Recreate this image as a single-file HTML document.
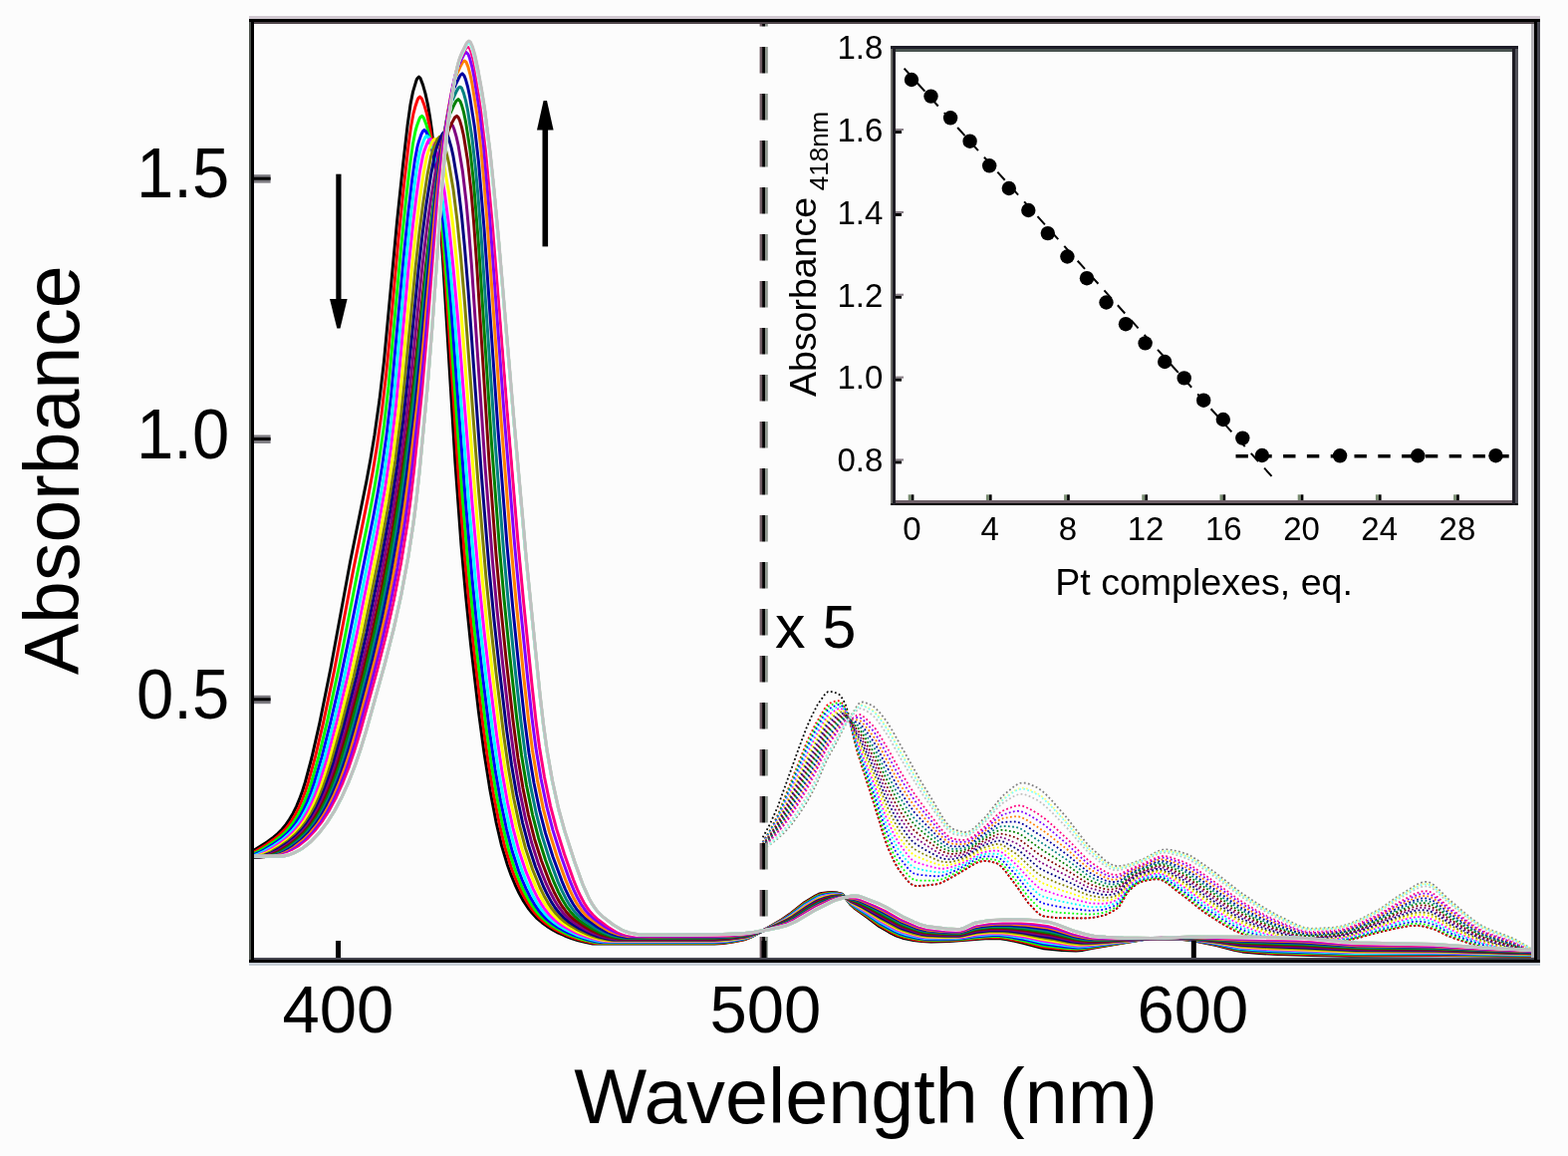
<!DOCTYPE html><html><head><meta charset="utf-8"><title>Absorbance titration</title><style>html,body{margin:0;padding:0;background:#fcfcfc;}svg{display:block}text{font-family:'Liberation Sans',Arial,sans-serif}</style></head><body><svg width="1574" height="1160" viewBox="0 0 1574 1160"><defs><clipPath id="cp"><rect x="254.7" y="23.6" width="1286.1" height="937.4"/></clipPath></defs><rect width="1574" height="1160" fill="#fcfcfc"/><g fill="none" stroke-width="1.8" stroke-dasharray="1.8 2.4" clip-path="url(#cp)"><path stroke="#000000" d="M765.7 840.3l7-12.9 8-17.8 21.5-59.7 7.5-19.8 4.5-10.3 6.5-12.7 7-9.9 2-2.1 1.5-1 3.5 0 5 1.4 2 0.8 1 0.8 3.5 4.7 3 6.3 2.5 8.5 7 30.2 3.5 12.4 16.5 51.7 8.5 28.3 2.5 7.3 3 7.4 5.5 11.9 4.5 7.6 9 11.1 3 2.7 2.5 1.4 2 0.4 9.5-0.4 11-1.2 3.5-0.8 6.5-3 15.5-8.8 11-6.8 4.5-2.3 3-1.1 3-0.6 3-0.1 4 0.5 7.5 2.1 2 1.3 2.5 2.3 3.5 4.2 10 13.2 12.5 17.9 8.5 9.3 4.5 3.6 2 0.9 3.5 0.6 11.5 1.3 29.5 0.3 6.5-0.7 8.5-1.7 5-1.6 4.5-2.2 4.5-2.8 3-2.4 2-2.9 5-9.1 2-3 4.5-4.4 4-3.3 4-2.2 5.5-1.4 7-1.3 5.5-0.2 4 1.1 4.5 2.6 11 8.8 8 5.9 17.5 14 12.5 8.2 10.5 6.4 9 4.8 8 3.4 11 3.5 10.5 2.6 19 2.8 12.5 1.1 14-0.1 17.5-1.3 16-1.7 5.5-0.9 9-2 21-5.8 22-4.9 9.5-1.6 8-0.4 6 0.9 9 2.4 4.5 1.8 10.5 5.3 8 3 15.5 4.9 16.5 4.4 9.5 2.1 7.5 1.3 18.5 2.2 14 0.9"/><path stroke="#FF0000" d="M765.7 844.9l7.5-12.3 8-15.9 28-70.4 3.5-7.9 6-12 9-15.2 3-4 1.5-1.2 3.5-1.5 3-0.9 3-0.4 1 0.3 1.5 1 2.5 2.8 2 3.2 1.5 3.9 2.5 8.7 5.5 22.9 2.5 9.1 18 55.8 8.5 28.3 3.5 9.9 6 13.7 5 9.1 9.5 12.1 3 2.8 3 1.8 2 0.4 9.5-0.4 11-1.2 3.5-0.8 6.5-3 15.5-8.8 11-6.8 4.5-2.3 3-1.1 3-0.6 3-0.1 4 0.5 7.5 2.1 2 1.3 2.5 2.3 3.5 4.2 10 13.2 12.5 17.9 8.5 9.3 4.5 3.6 2 0.9 3.5 0.6 11.5 1.3 29.5 0.3 6.5-0.7 8.5-1.7 5-1.6 4.5-2.2 4.5-2.8 3-2.4 2-2.9 5-9.1 2-3 4.5-4.4 4-3.3 4-2.2 5.5-1.4 7-1.3 5.5-0.2 4 1.1 4.5 2.6 11 8.8 8 5.9 17.5 14 12.5 8.2 10.5 6.4 9 4.8 8 3.4 11 3.5 10.5 2.6 19 2.8 12.5 1.1 14-0.1 17.5-1.3 16-1.7 5.5-0.9 9-2 21-5.8 22-4.9 9.5-1.6 8-0.4 6 0.9 9 2.4 4.5 1.8 10.5 5.3 8 3 15.5 4.9 16.5 4.4 9.5 2.1 7.5 1.3 18.5 2.2 14 0.9"/><path stroke="#00FF00" d="M765.7 845.2l7.5-11.9 8-15.4 28-68.6 4-8.9 6-11.9 8.5-14.4 3-4.2 1.5-1.3 3.5-1.7 4-1.4 2.5-0.4 2.5 1.3 2.5 2.7 1.5 2.3 1.5 3.5 2.5 8.1 7.5 28.1 18.5 54.8 9 28.8 4 10.6 5.5 12.2 5 8.8 9.5 12.1 3 2.8 3 1.7 4 0.6 8.5 0.2 10-0.2 3.5-0.6 6-2.2 14-7.1 13.5-8 5.5-2.6 3.5-1 3-0.3 4 0.2 5 0.7 2.5 0.6 2 1 4.5 3.9 12.5 15.1 12.5 16.8 8 8.4 4.5 3.7 2 0.8 3.5 0.8 12 2 30.5 1.9 6-0.4 8-1.2 5-1.4 4.5-2 4-2.4 3-2.3 2-2.7 5-8.7 2-2.9 4.5-4.3 4-3.1 4-2.2 6.5-1.7 6.5-1.2 5.5-0.2 4 1.1 4.5 2.6 18.5 13.8 18.5 14.6 14 9.1 10 6 8.5 4.5 7.5 3.2 12 3.9 10.5 2.6 18.5 3 13 1.2 14-0.1 20-1.6 12.5-1.4 7.5-1.4 27-7.5 25.5-6.2 8.5-1.4 6.5-0.2 6 0.9 8.5 2.4 4 1.7 10 5.3 6 2.4 15.5 5.6 14.5 4.2 11.5 2.9 8.5 1.6 20 2.8 14 1.3"/><path stroke="#0000FF" d="M765.7 845.6l7.5-11.5 8-14.9 5-11.4 24-57.6 5.5-11.6 5-9.5 7.5-12.9 3-4 2.5-1.7 3.5-1.8 4-1.5 1.5-0.1 2 0.9 3 2.8 1.5 2.4 1.5 3.6 9 30.5 18.5 51.8 10 30.7 5.5 13.4 5 10.4 4.5 7.3 9 11.5 3 2.8 3 1.7 6 1.1 8 0.8 8.5 0.6 4.5-0.5 6-1.9 12.5-5.6 15.5-8.8 5-2.2 3-0.8 3.5-0.3 4.5 0 5 0.6 3.5 1.4 4.5 3.9 12 13.2 12.5 15.8 8 8.1 4 3.1 2 0.9 3 0.8 13 2.8 26.5 3.5 5 0.4 6.5-0.3 7-0.7 5-1.3 4.5-1.9 3.5-2 2.5-1.9 2-2.5 5-8.3 2-2.7 4.5-4.2 4-3 4-2.1 7.5-2.1 6.5-1.2 5-0.2 4 1.2 4.5 2.5 18.5 13.3 18.5 14.4 15.5 10.1 10 6 8.5 4.4 7.5 3.1 12 4 10.5 2.6 19 3.4 12.5 1.2 14.5-0.1 21.5-1.9 9.5-1.2 8-1.7 26-7.5 25.5-6.8 9-1.6 6.5-0.3 6 0.9 7.5 2.2 4 1.8 10 5.6 5 2.1 16 6.2 14 4.6 11 2.9 9 1.9 22 3.4 13 1.6"/><path stroke="#00FFFF" d="M765.7 846l4-5.6 4-6.3 8-14.6 10.5-23.8 18-42.3 6-12.4 5.5-10.4 6.5-11.4 3-4.2 3-2.2 4-2.2 3.5-1.5 1.5 0 2 0.8 2.5 2 1.5 2.1 1.5 3.2 9 27.8 18.5 48.8 10.5 30.9 6.5 15 6 11.5 7 9.8 6 7 2.5 2 2 1 9 2.2 12.5 2.1 3.5 0.1 3.5-0.3 6-1.7 11-4.4 6-3 10-5.9 5-2.2 3-0.7 4.5-0.5 8.5 0.1 3.5 1.6 4 3.2 11.5 11.5 13 15.2 8 7.8 4 2.9 7.5 2.4 11 2.8 26.5 5.3 6 0.6 8.5-0.1 4-0.4 4.5-1 4.5-1.7 3.5-1.9 2-1.4 2-2.4 5-7.9 2-2.6 5-4.4 4-2.8 4-2 8.5-2.3 6.5-1.2 4-0.1 4 1.2 5 2.9 17.5 12.1 19 14.5 18 11.7 10.5 6.2 9 4.4 10.5 4 10.5 3.2 11 2.6 17.5 3.1 12.5 1.1 14.5-0.5 21-2 7.5-1.2 8-1.9 41.5-12.6 9-2.4 9-1.8 6.5-0.2 6 0.9 6.5 2 3.5 1.7 9 5.2 4.5 2.3 17.5 7.3 14 4.9 10.5 2.9 9 2.1 36 6"/><path stroke="#FF00FF" d="M765.7 846.3l4-5.3 4-6.1 8-14.1 10.5-22.9 19.5-44.5 7.5-15 8.5-15.4 2.5-3.9 2.5-2.5 8.5-5.3 1-0.3 1.5-0.1 2 0.8 2.5 1.8 1.5 2.1 1.5 3.2 8 22.7 19 47 10.5 29.7 8.5 18.8 5 8.9 9.5 12.9 2.5 2.8 2.5 2.1 2 1.2 2.5 0.9 8 2.5 12 3.1 4 0.4 4-0.3 6-1.5 10.5-3.8 5.5-2.7 10-5.9 4.5-2 8-1.6 6-0.5 2 0.1 2.5 0.9 3 1.8 11 9.5 4.5 4.5 10.5 11.6 8 7.5 4 2.9 16.5 5.6 26.5 7.1 5.5 1.2 6.5 0.5 6 0.1 4-0.3 4.5-0.9 4-1.6 3.5-1.8 2-1.8 6.5-9.4 2-2.3 4.5-3.7 4-2.7 4-1.9 10-2.9 6-1.1 3.5 0.1 4 1.2 5.5 3 17 11.4 19 14.3 19 12.5 11 6.4 8.5 4.1 13 4.9 10 3 12.5 3 16 2.9 11.5 0.8 16-0.7 19.5-2 7-1.4 7.5-1.9 40.5-13.1 9-2.6 9-2 6.5-0.3 6 0.9 6 1.9 4 2 12 7.2 18.5 8.2 13.5 5.1 9.5 2.8 9 2.2 37.5 7.2"/><path stroke="#FFFF00" d="M765.7 846.7l4-5.1 4-5.9 5-8.2 3.5-6.4 10.5-22.1 19-42.3 8-15.9 8.5-15.7 2.5-3.8 3-2.8 7.5-5.1 1.5-0.6 1.5-0.1 2 0.6 2 1.2 1.5 1.8 2 3.8 7 18.1 6 13.1 13 30.7 12 32.2 6 13 4.5 8.7 3 4.8 6.5 9 3 3.8 3 3.1 3.5 2.4 11.5 4.7 10 3.5 3 0.8 4.5 0.4 5-0.5 9.5-2.7 5.5-2.2 4.5-2.2 9.5-5.8 4-1.8 10-2.3 4-0.6 2.5 0.2 2.5 0.8 2.5 1.5 11.5 8.7 4.5 4.1 9.5 9.9 8 7.3 4.5 3.1 16.5 6.3 28.5 9.4 5.5 1.2 10 0.9 4.5-0.1 4-0.6 4-1.3 3.5-1.8 3-2.8 7-9.3 6-4.8 4.5-2.8 3-1.2 11.5-3.3 5-0.9 3 0.2 3.5 1 3.5 1.7 16.5 10.3 21.5 15.9 20.5 13.5 11.5 6.7 8.5 4 13.5 5.2 9 2.8 14 3.4 14.5 2.9 11 0.8 16.5-0.8 18.5-2 7-1.4 8.5-2.4 40-13.7 9.5-2.9 9-2 6-0.2 5.5 0.8 5.5 1.8 4 2.2 12 7.4 18.5 8.8 13 5.2 9 2.8 8.5 2.2 39 8.4"/><path stroke="#808000" d="M765.7 847.1l4-4.9 4.5-6.4 5-8 3.5-6.2 10.5-21.5 19-41.2 9-17.7 8-14.8 3-3.9 7.5-6 3-1.9 2.5-0.2 2.5 0.8 1 0.7 1.5 1.8 2 3.6 6 13.8 6.5 12.8 12.5 27.7 13 33.2 7.5 15.6 5 8.7 9 12.7 3 3.5 3 2.7 9.5 5.1 15 6.6 4.5 1.2 5 0.3 4-0.5 7-1.8 8.5-3.2 11-6.7 4-2 12-3.5 2.5-0.5 2.5 0.1 2 0.5 2.5 1.2 12 7.8 4 3.3 8.5 8.3 7 6.2 3.5 2.9 3 1.9 16.5 7.1 11.5 4.3 16 6.6 4.5 1.5 5.5 1 6.5 0.9 4.5 0.2 4.5-0.5 4-1.2 3-1.4 2-1.6 6.5-8.2 2-2 5.5-4.2 4-2.4 3-1.3 14.5-4.2 4-0.5 4 0.6 6 2.8 16 9.6 21 15.4 22 14.6 12 6.9 12 5.4 12.5 4.6 13.5 3.9 15 3.5 9.5 1.4 8.5 0.4 20-1.4 14-1.8 7-1.6 8.5-2.6 24-8.5 14-5.3 10.5-3.4 8.5-2.1 6-0.3 5.5 0.9 5.5 2 15.5 9.7 19 9.6 12.5 5.2 15.5 4.8 19.5 4.4 21.5 5.3"/><path stroke="#000080" d="M765.7 847.4l4-4.7 4.5-6.1 5.5-8.4 3.5-6.2 10-19.7 19-40.1 17-32.9 3-4.1 9-7.7 2.5-1.4 2.5-0.1 2.5 0.8 2.5 2.8 7 13.7 6.5 11.2 13.5 28.2 9 22.6 3.5 8 7.5 15.3 5.5 9.3 8.5 12 3 3.5 2.5 2.4 10.5 6.6 13 7 3.5 1.5 4.5 1.1 4.5 0.3 3.5-0.4 7.5-1.8 7.5-2.9 10.5-6.5 4-2.1 13.5-4.7 2-0.3 2 0.1 4 1.3 12.5 6.9 4 3.1 15 13.2 3.5 2.8 3 1.8 44.5 20.8 5 1.7 10 2.2 4.5 0.5 4.5-0.2 4-0.9 3.5-1.4 3-2.5 5-6.1 2.5-2.5 6.5-4.6 5-2.6 12-3.9 5-1.3 3.5-0.2 4 0.8 5.5 2.5 16.5 9.5 18 13.2 18.5 12.5 10 6.4 8.5 4.8 13 5.9 12 4.6 13 3.9 16 4 8.5 1.3 8 0.3 22.5-1.5 11.5-1.7 7.5-1.9 9-2.9 19-6.9 18-7.3 11.5-4 7.5-1.9 6.5-0.2 5 0.8 5 1.9 3.5 2.1 12 8.1 19 10 12 5.4 14.5 4.7 21 5.1 21.5 5.9"/><path stroke="#800080" d="M765.7 847.8l4.5-5.1 5-6.6 5-7.5 4-6.9 9-17.1 19-39.2 17.5-34 3-3.9 9-8.4 2.5-1.4 3.5-0.3 2 1 2 2.2 6.5 10.9 6.5 9.7 13 25.1 11 26.1 7.5 15.5 5.5 10.1 8 11.9 5 6.6 4.5 4.4 8.5 5.9 13 8.2 6.5 3.3 4 1 4 0.3 7-1.1 4.5-1.1 5.5-2 12.5-8 9.5-4.2 7-2.8 2.5-0.3 2.5 0.3 4 1.4 10.5 4.7 4.5 3.1 14 11.6 6 4.4 28 14.4 15.5 8.6 4 1.9 4 1.4 9.5 2.5 5.5 0.8 5.5-0.3 3-0.8 2.5-1.1 2.5-2 7-7.6 6-4.2 5-2.7 17-5.7 4-0.6 3.5 0.4 6.5 2.6 16.5 9.1 5.5 3.7 13 9.6 22 14.9 9 5.8 8 4.4 15 6.7 12.5 4.6 21.5 6.2 6 1.4 5.5 0.8 7 0.3 13.5-0.7 13-1.2 9.5-1.7 8-2.2 9.5-3.4 16.5-6.2 18-7.7 13-4.7 8-2 3.5-0.1 4 0.3 3.5 1 4 1.7 14.5 10 19.5 10.9 11.5 5.5 13 4.4 23 6 21.5 6.5"/><path stroke="#800000" d="M765.7 848.2l5-5.5 5-6.4 5-7.3 5-8.4 9-16.7 32.5-65 3-5.4 3-3.8 9-9 2.5-1.5 3.5-0.7 2 0.9 2 1.9 5.5 7.7 5.5 6.5 3 4.8 12 21.8 10.5 23.8 9.5 19 4.5 7.9 9.5 14.1 5.5 6.5 8 6.6 17 12.4 3.5 2 3.5 1.5 3.5 0.8 3.5 0.2 7.5-1 5.5-1.4 5-2.4 11-7.4 14-6.9 4-1.2 4 0.3 10.5 3.1 4.5 2.1 4 2.7 18 13.8 28 15.9 18.5 11.4 4.5 2 9.5 3.2 4 1 3.5 0.5 5-0.2 5-1.6 2.5-1.8 7-7.1 6.5-4.2 4.5-2.4 17.5-6.1 4-0.6 3.5 0.4 7 2.8 16.5 8.7 17.5 12.6 24 16.4 8.5 5.4 7.5 4.1 15.5 7.2 13 4.9 21 6.4 5.5 1.3 5.5 0.8 6.5 0.3 16-0.9 11-1.1 9-1.7 10.5-3.2 19.5-7.5 21-9.4 14-5.5 4.5-1.3 3.5-0.7 3.5-0.2 3.5 0.3 3.5 0.9 4 1.9 14.5 10.3 19.5 11.4 11 5.6 12 4.4 24.5 6.6 21.5 7.2"/><path stroke="#008000" d="M765.7 848.6l5.5-5.8 6-7.6 5-7.2 6-10 9.5-17.5 30-59.6 3-5.3 2.5-3.2 9.5-10.2 3-1.9 3-0.8 1.5 0.4 2 1.4 5.5 6 4.5 4.1 2 2.3 3.5 5.3 11 18.8 10.5 22.7 10.5 20.4 5.5 9 9 13.2 4.5 5.2 10.5 9.2 14.5 11.8 4 2.5 3.5 1.6 3.5 0.8 3 0.1 7.5-0.7 6-1.6 4.5-2.5 10-6.9 14-8 3-1.3 2.5-0.4 2.5 0 10.5 2 4 1.3 4 2.2 18.5 13.5 27.5 17 19.5 13.3 4.5 2.2 10 3.9 4 1.1 4 0.6 4.5-0.2 4.5-1.4 2.5-1.9 6.5-6.1 6.5-4 5-2.5 18-6.4 3.5-0.4 3.5 0.4 7 2.6 16.5 8.4 43.5 30.3 8.5 5.4 8 4.2 14.5 6.9 13.5 5.2 20 6.3 5.5 1.3 5 0.8 8.5 0.1 17-1.1 8.5-1 8-1.7 10.5-3.4 19.5-7.7 20-9.4 15.5-6.5 4-1.2 3.5-0.7 3.5-0.2 3.5 0.3 3.5 1 3.5 1.7 14.5 10.8 20 12.2 10.5 5.5 6 2.5 7 2.4 26 7.4 19 7"/><path stroke="#008080" d="M765.7 848.9l6.5-6.6 7-8.7 5-7.3 7-11.5 14.5-26.9 13-25.4 9.5-19.6 2.5-4.5 2.5-3.3 10-11.5 4-2.7 2.5-0.5 2.5 1 5 3.9 5.5 3.6 2 2.1 4.5 6.3 9.5 15.1 10.5 21.6 11.5 21.9 9 14.2 6 8.5 3 3.6 6.5 6.5 17.5 16 5 3.8 5 2.5 4 0.9 5.5-0.2 4.5-0.5 4.5-1.1 4-2.1 10-7.3 15.5-9.8 4.5-1.7 4.5-0.2 10 0.9 3.5 1.1 3 1.5 45.5 30.8 20 14.9 4 2.3 9 4 7 2.5 5.5 0.5 5-0.9 3-1.7 7.5-6.3 10-5.4 19-7.2 4-0.5 3.5 0.4 7.5 2.7 12 5.6 4 2.2 45 31.4 8.5 5.3 9.5 5.1 13.5 6.4 13 5.1 19 6.3 5 1.2 5 0.8 4 0.3 6-0.2 18-1.3 7.5-1 6.5-1.6 10.5-3.5 19-7.8 20-9.9 16-7 4-1.4 3.5-0.7 3.5-0.2 3 0.2 3.5 1.1 3.5 1.8 14.5 11.1 20 12.7 10.5 5.8 5.5 2.4 7 2.5 26 7.8 19.5 7.7"/><path stroke="#0000A0" d="M765.7 849.3l6.5-6.2 7-8.3 5.5-7.7 7.5-11.9 16-29 10.5-20.3 9.5-20 3-5.4 12.5-15.6 4.5-3.4 1.5-0.4 1.5 0 6 2.7 4 1.3 2 1.2 3.5 3.7 6 8.1 4 5.8 3 4.9 8.5 16.8 13.5 25.2 10 15.8 6 8.3 9 9.8 17 17.1 5.5 4.5 5 2.5 3 0.6 6 0 4.5-0.4 3.5-0.8 5-2.8 9-6.8 6-4 9-6.6 3-1.7 2.5-1 2.5-0.4 9.5-0.4 3.5 0.3 3.5 1.1 4 2 23 15.3 20.5 15.2 14.5 12.1 6 4.5 4 2.3 12 5.9 3.5 1.1 3.5 0.7 3.5 0 3-0.6 3-1.5 7.5-5.7 10.5-5.4 19-7.4 4.5-0.5 4 0.6 5 1.7 10 4.3 8 4.1 44.5 31.3 8 5.1 8 4.4 12.5 6.3 10.5 4.6 19.5 7.2 8 2.4 8 1.4 9.5 0 18.5-1.4 5.5-0.8 5.5-1.3 11.5-3.9 19.5-8.1 20-10.5 16-7.4 7-2.2 3-0.4 3 0.1 4 1 4 2 14.5 11.5 20.5 13.6 10 5.8 5.5 2.4 6.5 2.5 26 8.1 20 8.4"/><path stroke="#FF8000" d="M765.7 849.7l6.5-5.9 7-7.9 5.5-7.3 7.5-11.2 11.5-19.8 10-18.6 5.5-10.9 11-23.1 2-3.1 10-13.5 4.5-4.7 2-1.5 1.5-0.6 2-0.2 4.5 0.8 4.5 0.3 2.5 1 3 2.8 5.5 6.6 6 8.1 3.5 5.9 20.5 38 9.5 15.2 5.5 7.9 9.5 11.4 17.5 19.2 5.5 4.9 2.5 1.6 2.5 1.2 2.5 0.6 6.5 0.3 4.5-0.3 3.5-0.8 2.5-1.2 3-2.1 7.5-6 6.5-4.7 9-7.3 3.5-2.3 3.5-1.4 7-1.2 5-0.6 3.5 0.2 3.5 1.1 4.5 2.3 18.5 12 22.5 17.8 15 13.5 5 4.2 4.5 3 9.5 5.3 4.5 2.2 3.5 1.1 3 0.6 3 0 2.5-0.4 2.5-1.1 7.5-5.1 7-3.6 10.5-4.2 10.5-4.6 3-0.9 3-0.4 2.5 0.1 3.5 0.8 5 1.7 10 4 7 3.6 23.5 16.3 22.5 16.1 7.5 4.8 9.5 5.3 11.5 5.9 10 4.5 19 7.3 7.5 2.4 4.5 1 4 0.5 10-0.2 17.5-1.3 5.5-0.9 5.5-1.4 11-3.8 19.5-8.4 20-11 16.5-8 3.5-1.4 3.5-0.9 3-0.3 3 0 3.5 0.9 4 2.2 14.5 11.8 20.5 14.2 10 6 5 2.3 6.5 2.6 19 5.9 7 2.5 9 3.8 11.5 5.4"/><path stroke="#8000FF" d="M765.7 850l6.5-5.5 7.5-8 7-9 6.5-9.5 11-18.4 9.5-17.4 5.5-10.8 11-23.5 13-18.9 4.5-5 2.5-1.9 2.5-0.8 9.5-1.5 2.5 1.1 3.5 3.2 7.5 8.3 3 4 13 22.5 11 20.1 10 16.1 6 8.8 8.5 10.7 18 21.4 5.5 5.2 2.5 1.7 2.5 1.1 4.5 0.7 5.5 0.3 4.5-0.4 2.5-0.8 5.5-3.6 13-10.5 9.5-8.5 4-2.8 3.5-1.5 9.5-2.6 3.5-0.4 3 0.2 4 1.3 6 3.1 7.5 4.7 7.5 5.2 22.5 19 15 14.5 5.5 4.9 3.5 2.6 9 5.6 6.5 3.5 3 1 3 0.7 3 0 2.5-0.4 2.5-1 7-4.2 7-3.4 10-4 12.5-5.6 3-0.8 2.5-0.2 2.5 0.2 4 0.9 15 5.6 6.5 3.4 22.5 15.6 24 17.4 7 4.4 11.5 6.6 10.5 5.5 9.5 4.3 18.5 7.4 7 2.4 4 0.9 4 0.6 11.5-0.3 16.5-1.3 5.5-0.9 5.5-1.5 11-4 19.5-8.7 19.5-11.2 17-8.6 6.5-2.3 3-0.4 3 0 3.5 0.9 4 2.2 14.5 12.3 20.5 14.7 10 6.2 5 2.5 6.5 2.6 18.5 5.9 7 2.6 9.5 4.2 11.5 5.8"/><path stroke="#FF0080" d="M765.7 850.4l7-5.6 7.5-7.7 8-9.8 7-10.1 10.5-17.2 8.5-15.4 5-9.9 8.5-18.9 3-5.9 13.5-20.5 4-4.9 3-2.5 9.5-4.6 2.5-0.4 2 0.9 4 3.1 6.5 6.5 3 3.6 3.5 5.2 9 15.1 13 23.3 9 14.7 5.5 8.4 8.5 11.5 18.5 23.7 5.5 5.6 2.5 1.8 2.5 1.2 5.5 1 4.5 0.3 4-0.2 3-1.1 4.5-3 11.5-9.6 11.5-11 4.5-3.6 3-1.6 10-3.8 4-0.7 3.5 0.2 4 1.4 6 3 6.5 3.9 7 5 5.5 4.7 17 15.6 15 15.6 5.5 5.2 3.5 2.8 10 6.8 6.5 3.6 5.5 1.7 2.5 0.1 2.5-0.3 3-1.1 6.5-3.4 6.5-2.9 10.5-4.2 9.5-4.6 4-1.6 3-0.7 2.5-0.1 3.5 0.4 4 1 13.5 4.8 6.5 3.3 21.5 14.9 25.5 18.7 6.5 4.2 13 7.6 9.5 5.1 9.5 4.5 18 7.5 7 2.5 4 1 4 0.5 12-0.3 15.5-1.2 5.5-1 5.5-1.5 11.5-4.3 19-8.7 6-3.4 13-8.1 18-9.6 6.5-2.3 5.5-0.4 3.5 0.9 4 2.2 14.5 12.7 21 15.6 9.5 6.1 5 2.6 6 2.5 19 6.3 7 2.7 9.5 4.4 11.5 6.2"/><path stroke="#FFFFFF" d="M765.7 850.8l6.5-4.8 7-6.6 7.5-8.4 6-7.8 8.5-12.9 9-15.1 8.5-16.1 11.5-25.4 13.5-21.9 4.5-6.3 3-3.2 9.5-7.5 1.5-0.7 1.5-0.2 3 1.3 4.5 3.4 5.5 4.9 3.5 4.2 10.5 16.2 14 24.9 11 18.2 7 10.6 24 33.1 5.5 5.8 2.5 1.8 2 0.9 6 1.3 4.5 0.4 3.5-0.3 3-1.1 4-2.8 11.5-10.1 12-12.4 5-4.2 8.5-4.5 4.5-2 4-0.9 3.5 0.2 5.5 1.9 8 4.2 4 2.6 5 3.8 6 5.3 16.5 16.2 15 16.6 5.5 5.6 3.5 3 10.5 7.7 7 4.2 3 1.1 3 0.6 2.5 0 3-0.7 16-6.8 8-3 11-5.6 5-1.8 3-0.4 2.5 0.1 8.5 1.9 11 3.8 7 3.6 21 14.5 26 19.4 20.5 12.6 9 4.9 8.5 4.2 18 7.9 7 2.5 4 1 4 0.5 13.5-0.4 14.5-1.2 5-1 5.5-1.6 11-4.3 19-8.9 6-3.5 13-8.4 18.5-10.4 6.5-2.3 3-0.4 2.5 0 3.5 1.1 4 2.5 13.5 12.2 21 16.3 9.5 6.4 5 2.6 6 2.6 19.5 6.8 7 2.8 9.5 4.7 11.5 6.5"/><path stroke="#C0C0C0" d="M765.7 851.1l7-4.8 8-7.2 8.5-9.3 6.5-8.5 9.5-14.5 7.5-12.8 6.5-12.7 11-24.8 8-13.1 6.5-11.5 4-6.1 3.5-4.3 8.5-9.2 2-1.3 1.5-0.3 4.5 1.9 7 4.9 3 2.9 3 3.7 10 14.8 11.5 20.6 10 17 13.5 21.4 21 30.7 5 5.5 2.5 1.9 2 0.9 6 1.4 4.5 0.5 3.5-0.2 3-1.3 4-2.9 11-10.1 12.5-13.9 5-4.6 9-5.7 4-2.1 4-1.2 4 0.1 5 1.7 8 4 4 2.6 4.5 3.5 6 5.7 16 16.5 15.5 18.3 6 6.4 14 11.4 7 4.5 3 1.2 3 0.6 3-0.1 3-0.6 22-8.3 13-6.7 5.5-1.8 3-0.2 4.5 0.5 11 3 7 2.5 7 3.9 19.5 13.6 26 19.6 19.5 12.4 9 5.1 8.5 4.4 18.5 8.5 7 2.7 4 1 4 0.5 13.5-0.3 14-1.1 5.5-1.1 5.5-1.7 11-4.3 19-9.2 5.5-3.3 13.5-9.1 18.5-10.8 6.5-2.5 3-0.5 2.5 0 3.5 1.1 4 2.5 13.5 12.6 21.5 17.2 9 6.3 5 2.7 5.5 2.5 19.5 7 7 2.9 10 5.1 11.5 6.9"/><path stroke="#808080" d="M765.7 851.8l5-2.7 5-3.5 5.5-4.6 6.5-6 7-7.9 8.5-11.7 6.5-10.1 6-10.7 4-8.2 10.5-24.4 8-14.2 6-11.9 5.5-10.2 11.5-18.8 2.5-2.2 2.5-0.2 2.5 0.6 3 1.1 4.5 2.2 2 1.5 4.5 4.6 7 8.9 5.5 8.8 29 51.4 11.5 18.7 10 17 3.5 5.3 3 3.7 3 2.7 2.5 1.4 6 1.9 5 0.8 3-0.2 3-1.4 4.5-3.6 10.5-10.5 13-16.5 5-5.3 9-7.5 4.5-3 2.5-1.1 2-0.5 4.5 0.3 4.5 1.5 6.5 3 4 2.7 4 3.4 6.5 6.7 15.5 17.8 16 20.9 6 7 16 14.5 4.5 3.2 4 1.9 3 0.6 4-0.1 4.5-0.7 5.5-1.5 13-4.6 13.5-7.4 3-1.3 3-0.8 4-0.2 5 0.6 5.5 1.1 8 2.2 5.5 2.5 6.5 4.1 17 11.8 27 21 13.5 9 11 6.9 11.5 6.5 20.5 10.1 7 2.6 6 1 12-0.3 14-1 7-1.4 8-2.7 10.5-4.6 17-8.8 5-3.2 13.5-9.7 19.5-12.3 3.5-1.6 3-1 3-0.4 2.5 0.2 3 1.2 3.5 2.4 13.5 13.3 21.5 18.3 9 6.7 5 2.9 5.5 2.6 19 7.1 7.5 3.3 10 5.6 11.5 7.6"/><path stroke="#FFFF80" d="M765.7 851.5l4-2.3 4.5-3.2 9.5-8.5 8-8.6 8.5-11.4 7.5-11.5 7-12.3 4.5-8.9 11-25.3 8-13.7 8-14.8 5-8.1 9-12.6 2.5-2.4 2-0.6 2.5 0.6 2.5 1 7 4.2 4 3.9 4.5 5.7 7.5 11 11.5 20.6 16 27.4 24.5 39.1 3.5 5.1 3.5 4.3 3 2.7 3 1.6 6 1.6 5 0.7 3-0.3 3-1.4 4-3.1 11-10.6 12.5-15 5-5 9-6.7 4.5-2.7 4.5-1.4 4 0.3 5 1.7 7 3.4 4 2.6 4 3.3 6 6 16 17.5 16 20 6 6.7 15.5 13.3 4.5 3 4 1.9 3 0.6 3 0 4-0.7 5-1.5 15.5-5.6 13.5-7.2 5.5-1.9 3.5-0.1 5 0.5 5.5 1.3 8 2.3 5.5 2.3 6.5 4 18 12.6 26.5 20.3 23.5 15 12.5 6.9 20.5 9.8 7 2.5 6 1.1 12-0.3 14.5-1 7-1.4 8-2.6 10.5-4.6 17-8.5 5.5-3.5 13-9.1 19-11.6 3.5-1.6 3.5-1.1 3-0.4 2.5 0.2 3 1.2 3.5 2.4 13.5 13 21.5 17.8 9 6.5 5 2.8 5.5 2.5 19 7 7.5 3.2 10 5.4 11.5 7.3"/><path stroke="#80FFFF" d="M765.7 851.5l4-2.4 4-2.9 9-8 8.5-9.1 8-10.7 8-12.2 7-12.2 5-9.9 11-25.1 8-13.6 7.5-13.9 5-7.9 9.5-12.8 2.5-2.4 2-0.5 2.5 0.7 2.5 1.1 7 4.3 3.5 3.4 4.5 5.8 8 11.7 11.5 20.7 18 30.6 22.5 35.3 3.5 5 3.5 4.2 3 2.7 2.5 1.4 6 1.7 5 0.6 3.5-0.3 3-1.4 4-3.1 11-10.5 12.5-14.8 5-4.9 9-6.5 4.5-2.6 4-1.2 4 0.1 5 1.7 7 3.3 4 2.6 4.5 3.7 6 5.9 16 17.3 16 19.8 6 6.6 15.5 13.2 4.5 2.9 4 1.8 3 0.7 2.5 0 3.5-0.6 4.5-1.4 17-6.1 13.5-7.1 5.5-1.9 3.5-0.1 5 0.6 5.5 1.3 8 2.3 5.5 2.4 6.5 4 18 12.5 26.5 20.3 23.5 14.9 12.5 6.8 20.5 9.8 7 2.5 6 1 12-0.2 14.5-1.1 7-1.3 8-2.7 10.5-4.5 17-8.5 5.5-3.5 13-9 19-11.5 3.5-1.6 3-0.9 3-0.5 2.5 0.1 3.5 1.3 3.5 2.3 13.5 13 21.5 17.6 9 6.5 5 2.8 5.5 2.5 19 7 7.5 3.2 10 5.3 11.5 7.2"/></g><g fill="none" stroke-width="3.0" stroke-linejoin="round" clip-path="url(#cp)"><path stroke="#000000" d="M252.5 854.7l15.5-9.7 6.5-4.9 4.5-3.8 4-4.1 4-4.8 3.5-5.1 3.5-5.9 3.5-7.1 3-7.1 3-8.2 3-9.5 6.5-24.5 7.5-32.8 11.5-57 19.5-106.3 16.5-81.5 4-21.9 4-24.3 5-35.4 4.5-38.7 13-139.3 6-57.1 4.5-39.4 3-21.5 2.5-12.7 3.5-11.6 1-2 1.5-1.4 1.5 1.5 2.5 6.5 2.5 8.8 2.5 11.4 2 11.6 2 14.4 3.5 32.4 3.5 40.8 4 55.3 12.5 205.2 6 82.1 4.5 50.1 5 49 8 68.4 5.5 40.9 6 37.8 6 31.5 5.5 23.6 6 19.9 3.5 9.6 4 9.6 4 8.5 4.5 8.2 4.5 6.8 4 5.1 4.5 4.9 5.5 4.7 5 3.7 6 3.7 5.5 3 6.5 2.9 6.5 2.5 7 2.2 7.5 1.9 7 1.4 122 0 9-0.5 8.5-1.2 10.5-2.1 4-1 4.5-1.8 17.5-9.3 14-8.4 7.5-5.1 15-11.9 11-6.7 3.5-1.7 3-0.9 6-0.7 4.5-0.2 5.5 0.6 3.5 0.8 1 0.5 2.5 2.4 6 8.1 3.5 3.1 13.5 9.7 11.5 8.8 10 5.8 7.5 3.8 6 2.1 11 2.3 8.5 1.1 9 0.3 18.5-0.5 36-2.6 13.5-0.2 8.5 1.1 16 3.5 15 4.2 6 1.3 18 1.8 14 0.6 7-0.7 11.5-2.3 50-8.7 8.5-0.8 10.5 0 19 0.8 11 1.4 23.5 4.7 18 4.8 8 1.6 17 1.5 19 1.2 33 1 40 0.6 92-0.4 95 0.7"/><path stroke="#FF0000" d="M252.5 856.2l5-2.6 10-6.1 7-4.9 5.5-4.4 5.5-5.3 4-4.8 3.5-5 3.5-5.8 3.5-6.9 3-6.9 3.5-9.3 3-9.3 7-25.5 8-34 11-52.4 19-100.3 15-73.8 5-27.2 4-24.4 4.5-31.9 4.5-38.7 3-30.6 9.5-106.3 5.5-53.9 4.5-39.9 2.5-18.6 2.5-13.6 2-7.4 2-5.9 1-2.1 1.5-1.4 2 2.2 2.5 6.6 2.5 8.6 2.5 11.2 4 24.6 4 34.4 4 43.4 4 51 4.5 64.5 9 138.2 6 76.7 5 53 5 46.7 8 66.4 5.5 39.3 5.5 33.3 6 30.5 5.5 22.7 6 19.5 3.5 9.4 4 9.5 4 8.4 4.5 8 3.5 5.4 4.5 5.8 5 5.3 5 4.3 5 3.5 6 3.7 5.5 2.9 6.5 2.9 7 2.6 7 2.1 7.5 1.8 6.5 1.1 119 0 9.5-0.5 9-1.3 11.5-2.2 7-2.5 17.5-9.1 14-8.1 7.5-5 14.5-11.3 11.5-6.9 3.5-1.7 3-0.8 6-0.8 5-0.2 5.5 0.6 3.5 0.9 2.5 2.3 6 7.5 3.5 3 13.5 9.3 11.5 8.5 12 7 6.5 3.1 5.5 1.9 11.5 2.5 8.5 1.2 10 0.2 18-0.4 34-2.8 14-0.3 8.5 1.1 16 3.3 15 4 5.5 1.2 19.5 2.1 13.5 0.7 7.5-0.7 61.5-10.1 8-0.6 12 0.1 17 0.6 11 1.3 23.5 4.5 18 4.5 8 1.5 16.5 1.4 18.5 1.2 39 1.1 36.5 0.7 85.5-0.3 100 1"/><path stroke="#00FF00" d="M252.5 857.5l6.5-2.9 8.5-5.1 8-5.2 6.5-5.1 4.5-4.1 4.5-5.1 4-5.3 4-6.5 3.5-6.7 3.5-7.9 3.5-9.1 3-9 7.5-26.6 8.5-35 12.5-57.8 17-87.2 12.5-61 5.5-29 4.5-26.9 5-35.1 4.5-38.9 12.5-138.1 5-49.1 4-35 3-21.7 2.5-12.6 1.5-5.3 2.5-7 1-1.7 1.5-1.1 1.5 1.4 0.5 1 2.5 6.5 2.5 8.5 2.5 10.9 2.5 13.7 2 13.2 4 33 4 40.9 4.5 53.8 14 196.6 6.5 78.1 5 50.5 5 44.9 7.5 60.7 5.5 38.4 5.5 32.3 6 29.4 5.5 22 6 19 3.5 9.3 4 9.3 4 8.3 4.5 7.9 4 6 4 5 4.5 4.7 5 4.2 5 3.5 6 3.6 6.5 3.3 6 2.6 6.5 2.3 7 2.1 7 1.6 6.5 1.2 116.5-0.1 10-0.5 9-1.3 11-2.1 7-2.3 17.5-8.7 14.5-8.1 7-4.6 15-11.4 11.5-6.9 3-1.4 3-0.8 7-1.1 5-0.2 6.5 0.8 2 0.8 2.5 2.3 5 6 3.5 2.9 14 9.3 12 8.6 13 7.4 6 2.8 5 1.7 11.5 2.6 8.5 1.2 11 0.3 17.5-0.3 8-0.5 24.5-2.5 8.5-0.4 6.5 0 8.5 1.1 15.5 3 20.5 5 21.5 2.5 12 0.8 8.5-0.7 60.5-9.1 8.5-0.6 14 0.1 15 0.6 11 1.3 22.5 4 18 4.3 7.5 1.3 16 1.4 18.5 1.1 78 2.1 82.5-0.2 101.5 1.3"/><path stroke="#0000FF" d="M252.5 858.6l6.5-2.6 6.5-3.4 9.5-5.9 8-5.8 5.5-4.9 4.5-4.9 4-5.2 4-6.3 4-7.4 3.5-7.6 3.5-8.9 3.5-10.2 7.5-25.7 9-35.8 8.5-37.2 8.5-40.4 25.5-126.7 4.5-24.2 4-23.9 5-35 4.5-38.7 12.5-137.6 4.5-44 4-34.5 3-21.7 2.5-13 1.5-5.4 2.5-7.1 1.5-2.9 1.5-1.3 2 2.2 2.5 6.3 2.5 8.3 2.5 10.5 4.5 25.7 4.5 35.6 4 39.6 4.5 51.7 14 188.4 7 82.1 5 49.3 5 44.1 7.5 60 5.5 37.7 5.5 31.6 6 28.6 5.5 21.4 6.5 20 3.5 9 4 9.1 4 8.1 4 6.9 4 5.9 4 5 4.5 4.6 5 4.1 5 3.4 5.5 3.2 6.5 3.3 6 2.5 13 4.3 7 1.6 6.5 1.1 114-0.1 10.5-0.6 9-1.2 10.5-1.9 3.5-0.9 4-1.6 18-8.6 14.5-7.9 6.5-4.2 15-11.1 11.5-6.8 3.5-1.5 4-1 6-0.9 5-0.2 6 0.6 1.5 0.7 2.5 2.1 5 5.5 3 2.4 14.5 9.3 12 8.4 14 7.8 5.5 2.6 5 1.7 12 2.8 8.5 1.3 12.5 0.3 16.5-0.3 7.5-0.5 13-1.8 9-0.8 9.5-0.6 7 0 8.5 1 15.5 2.8 20.5 4.8 23.5 3 11 0.8 9-0.8 60.5-8.2 7.5-0.4 18.5 0.2 12 0.5 11 1.4 20.5 3.5 18 4 7.5 1.3 15.5 1.2 18 1 79.5 2.4 81.5-0.1 102 1.6"/><path stroke="#00FFFF" d="M252.5 859.4l6.5-2.2 6-2.8 10-5.9 9-6.3 5.5-4.7 4.5-4.7 4.5-5.5 4.5-6.8 4-7.2 4-8.5 3.5-8.6 3.5-9.9 8-26.7 9.5-37.1 9.5-40.7 9-42.2 22.5-111.8 4.5-24.2 4-23.8 5.5-38.4 4.5-38.9 3-31 9.5-107.8 4.5-44 3.5-29.8 3-21.8 2.5-13.6 2-7.2 2.5-6.8 1.5-3 1.5-1.3 2 1.9 2.5 6.1 3 10 2.5 10.8 4.5 25.7 4.5 35.2 4 38.6 4.5 50.3 14.5 188.8 7 80.2 5 48.7 5.5 47.9 7 55.7 5.5 37.5 5.5 31.1 6 28.2 5.5 20.9 6.5 19.8 3.5 9 4 9.1 4 8.1 4 6.9 4 5.9 4 4.9 4.5 4.6 4.5 3.7 5 3.4 6 3.5 6 3 6.5 2.8 6 2.1 7 2 6.5 1.5 6.5 1 111-0.1 11-0.6 8.5-1.1 10.5-1.8 3.5-0.9 4.5-1.7 18-8.3 14.5-7.6 6.5-4.1 14.5-10.6 12-7.1 4-1.6 5.5-1.2 5-0.7 4.5-0.1 5 0.4 1.5 0.6 2 1.5 5 5 2.5 2 15.5 9.6 12.5 8.5 15 8.2 5 2.3 4.5 1.5 12 2.9 8.5 1.3 14.5 0.4 16-0.2 6-0.5 12.5-2 8.5-0.8 10-0.7 7.5 0 8.5 1 15 2.5 20.5 4.6 24.5 3.4 10.5 0.8 10.5-0.7 59.5-7.3 9-0.3 22.5 0.3 9.5 0.7 11 1.5 17 2.7 17 3.6 7 1.1 14.5 1.2 18.5 1 81.5 2.7 80.5-0.1 102.5 2"/><path stroke="#FF00FF" d="M252.5 860l7-1.9 7-3.1 9.5-5.5 8-5.4 5.5-4.4 5.5-5.3 5-5.9 4.5-6.5 4.5-7.8 4-8.2 4-9.6 3.5-9.7 8-25.9 10-38.1 10.5-44 9.5-43.9 20-99.5 8.5-47.9 5.5-37.6 5-42.4 3.5-36.1 9-101.6 4.5-43.8 3.5-29.3 3.5-25 3-15.4 1.5-5.1 3-7.8 1.5-2.8 1.5-1.2 2 2.1 2.5 6.2 2.5 8.2 2.5 10.5 2.5 12.9 2.5 15.4 4.5 35.2 4 38.7 4.5 50.2 14.5 186.6 7 79.6 5 48.6 5.5 47.9 7 55.8 5.5 37.4 5.5 30.9 5.5 25.6 6 22.7 6.5 19.6 7.5 18.2 4 8.1 4 6.9 4 5.9 3.5 4.4 4.5 4.6 5 4.2 4.5 3 6.5 3.8 5.5 2.8 6.5 2.8 6.5 2.3 6 1.7 6.5 1.5 6.5 1 108.5-0.1 11.5-0.6 8.5-1.1 10.5-1.8 8-2.5 18-8 14.5-7.3 6.5-4 14.5-10.5 12-6.9 4-1.6 6.5-1.5 4.5-0.6 4.5-0.1 4 0.3 2 0.8 8.5 7.2 15.5 9.1 13.5 8.8 16 8.7 6 2.5 9 2.5 8 1.9 6.5 0.9 17 0.4 15-0.3 4.5-0.4 14.5-2.5 12.5-1.1 9-0.3 6 0.4 7.5 1.1 13.5 2.2 17.5 3.8 26 4 9 0.9 7.5-0.1 12-1.1 51.5-5.8 7-0.3 22.5 0.2 9.5 0.4 11 1.3 19 2.8 17 3.3 7.5 1.2 31 1.9 83.5 2.9 80 0.1 102.5 2.2"/><path stroke="#FFFF00" d="M252.5 860.1l2.5-0.1 2.5-0.5 8.5-3 7-3.6 9.5-6 7-5.2 6-5.4 5.5-6.2 5-6.8 4.5-7.5 4-7.9 4-9.1 4-10.5 4-11.9 4.5-14.9 10-37.2 11.5-47.1 9.5-43.2 18-89.4 9-50.2 6-40.3 5-41.3 3.5-34.6 10-109.2 4-37.7 3.5-28.6 4-27.7 3-16 2-7.1 3-7.6 1.5-3.1 2-1.9 2 2.1 2.5 6.3 2.5 8.4 2.5 11 4.5 25.8 4.5 35.7 4 39.6 4 45.8 14 182.9 7.5 86.6 5 49.1 5.5 48.3 7 56.4 5 34.5 5.5 31.2 5.5 25.8 6 22.9 6.5 19.9 7.5 18.5 4 8.2 4 7.2 3.5 5.3 4.5 5.8 4.5 4.7 4.5 3.7 5 3.5 6 3.5 6 3.1 6 2.6 6 2.1 6.5 1.9 6.5 1.5 6 0.9 106-0.1 12-0.6 18.5-2.7 4-1 5-1.8 18-7.6 14.5-7.2 6-3.7 14-9.9 12-7 4-1.5 7-1.7 5-0.8 4.5-0.1 3.5 0.2 2 0.9 7.5 5.9 14.5 8.1 15 9.4 17 9.2 6 2.4 10 2.9 7 1.6 6 0.9 18 0.5 14.5-0.3 4.5-0.6 13-2.5 13-1.2 9.5-0.3 9 0.8 15 2.1 19.5 4.1 10 1.4 17.5 3 9 1 7.5-0.1 12-0.8 51-5.2 6.5-0.2 25.5 0.1 9 0.6 11 1.2 17 2.4 23.5 4 29.5 1.8 86 3.2 79 0.2 103 2.5"/><path stroke="#808000" d="M252.5 860.1l5-0.1 8-2.3 7-3.1 9-5.4 8.5-6 6.5-5.7 5.5-5.9 5.5-7.3 4.5-7.2 4.5-8.6 4-8.8 4-10.2 4-11.5 4.5-14.4 10-36.2 12-47.9 10-44.4 16.5-81.7 9-49.7 6.5-42.3 5.5-43.7 4-38 10.5-110.4 4-36.3 3.5-27.5 4.5-29.9 3.5-18.1 2-6.9 3.5-8.6 1.5-3 2-1.8 2 2.1 2 4.9 2.5 8.4 2.5 11 4.5 26.3 4 32.2 3.5 35.3 4 46.8 14 188.1 7.5 88.4 5 49.8 5.5 49.2 7 57.2 5 34.7 5 28.6 6 28.2 6 22.7 7 21.1 7.5 18.3 4 8.2 4 7.1 4 6 4 5 4.5 4.6 4.5 3.7 5 3.4 6.5 3.8 11.5 5.3 6 2.2 6 1.7 6 1.3 6 0.8 103-0.1 12.5-0.7 18.5-2.5 9-2.8 18-7.3 14.5-6.9 6-3.6 14-9.7 8-4.8 4.5-2.3 4.5-1.6 8-2 4.5-0.5 5 0 1.5 0.2 2 0.9 7 5 11 5.6 18 10.9 18 9.7 5.5 2.3 11 3.3 6.5 1.5 6 0.8 18 0.7 14-0.2 4.5-0.6 13-2.8 13-1.3 10-0.3 9 0.7 15 2 17 3.4 12 1.8 17 3.3 11 1.2 8 0 11-0.6 50.5-4.5 32.5-0.2 9 0.6 11 1.2 16 2 23.5 3.7 27 1.6 38 1.2 51 2.3 78.5 0.3 103 2.8"/><path stroke="#000080" d="M252.5 860l7.5 0 5-1.3 7.5-2.9 8-4.5 8.5-5.7 7.5-6.1 6.5-6.6 5.5-7 5-7.7 4.5-8.3 4.5-9.7 4-9.9 4-11.2 4.5-14 10-35.4 13-50.9 10-43.7 14.5-71.5 9.5-52.1 7-44.7 6-46.3 4.5-41.6 10.5-107.3 4-35.7 4-30.9 5-31.9 4-20.2 2-6.8 3.5-8.4 2-3.9 2-1.9 2 2.2 2 5 2.5 8.8 2 9 4.5 26.9 4 33.4 3 31.6 3.5 42.5 13.5 187.8 7.5 91.8 5 51.5 5.5 50.6 7 58.6 5 35.9 5 29.2 6 28.6 6 22.9 7 21.5 8 19.8 4 8.3 4 7.3 4 6.1 4 5.1 4.5 4.6 4.5 3.8 4.5 3.1 6.5 3.9 11.5 5.5 5.5 2 6 1.7 6 1.3 6 0.9 100.5-0.2 13.5-0.6 10.5-1.3 9-1.5 6-1.9 12.5-4.6 12.5-5.2 10-4.8 5.5-3.3 13.5-9.2 7.5-4.6 4.5-2.3 5-1.8 7.5-1.9 4.5-0.7 5.5-0.1 3 0.9 6.5 4.1 11.5 5.5 18.5 10.8 18.5 9.9 5 2 11.5 3.6 6 1.5 5.5 0.8 18 0.8 14-0.1 4.5-0.7 13-3 13.5-1.5 10-0.2 9 0.6 15.5 1.9 16.5 3.2 12 1.8 18.5 3.8 11 1.2 8 0.1 10.5-0.5 49.5-3.9 33-0.2 8.5 0.5 11.5 1.2 15 1.7 23 3.4 24.5 1.3 41 1.4 51 2.4 78.5 0.4 103 3.1"/><path stroke="#800080" d="M252.5 860l9.5-0.1 2-0.3 7.5-2.4 7.5-3.6 8.5-5.4 8.5-6.4 6.5-6.2 6.5-7.7 5-7.3 5-8.7 4.5-9.2 4.5-10.6 4.5-12.2 4.5-13.6 9.5-33 13.5-51.8 10-42.5 12-58.1 10.5-56.2 8-49.6 6.5-47.8 5-43.6 12-116.7 4.5-37.9 4-29.1 5.5-33.1 4.5-21.4 2.5-8 3.5-7.9 2-3.7 2-1.8 2 2.1 1.5 3.8 2 6.8 2 8.8 4.5 27.2 3.5 29.9 2.5 27.2 3 38.1 13.5 200 7.5 95.9 4.5 48.4 5.5 52.5 7 60.6 5 37.2 5 30 6 29.1 6 23.3 6.5 20.4 4 10.8 4.5 11 4 8.6 4 7.5 4 6.4 4.5 6 4 4.2 4.5 3.9 5 3.5 6 3.7 5.5 2.9 6 2.8 5.5 2 6 1.8 5.5 1.2 6 0.9 98-0.2 14-0.7 11.5-1.3 8-1.4 6-1.7 15-5.4 11.5-4.6 8.5-4 5.5-3.3 13-8.8 7.5-4.5 4.5-2.3 5-1.9 7.5-2.1 4.5-0.8 5.5-0.3 3 0.7 6.5 3.6 10.5 4.6 32 17.8 7.5 3.8 16.5 5.5 5.5 1.4 5 0.7 17.5 0.9 14-0.1 4.5-0.6 13-3.4 14-1.5 10.5-0.2 9.5 0.6 15 1.8 15.5 2.8 11 1.6 21.5 4.7 11.5 1.2 8 0.1 10-0.4 47.5-3.2 34.5-0.3 10 0.6 21 2.2 20 2.6 8 0.8 25.5 1.2 38.5 1.3 42.5 2.3 19.5 0.5 67 0.3 102.5 3.4"/><path stroke="#800000" d="M252.5 859.9l12.5-0.1 7.5-2.1 7-3.1 9-5.5 8.5-6.4 7-6.5 6-7 5-7 5-8.4 5-9.8 4.5-10.2 4.5-11.8 4.5-13.1 9.5-32.1 14-52.7 10.5-43.7 10-47.3 10.5-55.2 9-54.7 7.5-53.6 5.5-46.3 12.5-116.7 4.5-36.8 4.5-31.9 6.5-37.2 2.5-12.3 2.5-10.4 2.5-7.7 3.5-7.7 2.5-4.6 2-1.7 1.5 1.3 1.5 3.3 2 6.7 2 8.9 4 25 3.5 31 2.5 29.3 3 42.2 12.5 199.7 7 93.1 4.5 50.1 5.5 54 7 62.1 5 37.9 5 30.2 5.5 26.9 6 23.7 7 22.1 8.5 22.1 4 8.8 4 7.7 4 6.6 4 5.4 4.5 5 4.5 3.9 10.5 7 5.5 3.1 6 2.8 5.5 2.1 5.5 1.6 11 2.1 96-0.1 14.5-0.7 12-1.4 7.5-1.2 6.5-1.9 17-5.7 10.5-4.2 7.5-3.5 18-11.6 7.5-4.5 4.5-2.3 6.5-2.4 6-1.7 4.5-0.9 5.5-0.3 3 0.7 6 2.8 6 2.2 4.5 2 9 4.6 25 13.9 6.5 3.2 17 5.8 5.5 1.2 5.5 0.7 17 0.9 13 0 4-0.7 9-2.7 4-0.9 14-1.6 11.5-0.3 11 0.8 14 1.5 25 4.1 22.5 5.3 13 1.4 7 0.1 11-0.3 45.5-2.7 35-0.3 9.5 0.5 20.5 1.9 28 3.1 62.5 2.3 46.5 2.6 18.5 0.5 65 0.4 54 2.1 49 1.6"/><path stroke="#008000" d="M252.5 859.8l15-0.2 7.5-2.1 7-3.1 9-5.7 8.5-6.6 6.5-6.3 6.5-7.7 5-7.2 5.5-9.5 5-10.1 4.5-10.5 4.5-11.9 5-14.9 10-34.5 13.5-51.3 10-41.8 10-48 9.5-51.5 9-57.1 7.5-56 6-53.3 12.5-123.3 4-34.2 4-29.7 6.5-38.6 2.5-12.7 2.5-10.6 2.5-7.8 4-8.7 2-3.6 2-1.8 2 2.2 1.5 3.9 2 7.1 2 9.5 4.5 29.1 3.5 31.8 5 62.7 13 199.5 8 105.6 4.5 50.1 5.5 54.6 7 63.4 5 38.5 5 30.5 6 29.3 6 23.4 7 22 4.5 12.3 4.5 11.2 4 8.9 4 7.7 4 6.5 4 5.4 4 4.4 4.5 4 5.5 3.9 6 3.8 10.5 5.3 10 3.4 5.5 1.2 5.5 0.8 93-0.2 16-0.7 14-1.6 5-1 16-4.7 10.5-3.6 9-3.5 6-2.9 20.5-13 8.5-4.6 12.5-4.4 4.5-1 5.5-0.5 3.5 0.7 5.5 2.1 6 1.9 4 1.6 10.5 5.3 25.5 13.9 6.5 3.1 11 4 6.5 1.9 5.5 1.2 7 0.6 15 0.9 11.5-0.1 4-0.7 9.5-3 4-0.9 14-1.7 12-0.2 15 1 11 1.3 22.5 3.5 24 5.9 7.5 1.1 7.5 0.6 18-0.2 42.5-2 36.5-0.4 29 2.1 27 2.6 62.5 2.2 49 2.9 17 0.4 64.5 0.5 54 2.4 49 1.6"/><path stroke="#008080" d="M252.5 859.7l17-0.1 6.5-1.7 6.5-2.6 8.5-5.1 8.5-6.4 7.5-7 6.5-7.6 6-8.6 5.5-9.4 5-10.1 5-11.6 5-13.3 5-15 10.5-36.4 13.5-51.4 10-42 9-43.5 9-49.6 4.5-28.2 4.5-30.8 8-62.3 6-55.9 12-124.2 4-35.8 4-30.7 6-36.4 2.5-13.1 2.5-11 2.5-8.1 4.5-9.8 2-3.6 1.5-1.2 0.5 0 1.5 1.3 2 5.1 2 7.3 2 9.7 4.5 28.7 3.5 30.5 2.5 27.5 3 38.5 14 207.2 8.5 109.4 5 54.7 6.5 63.4 6 54 4.5 33.9 5 30 6 28.8 5.5 21.1 7.5 23.6 8.5 22.7 4 9.1 4 8 4 6.7 4 5.6 4 4.5 4.5 4 11 7.6 10.5 5.5 5 1.9 5 1.6 10.5 1.9 90.5-0.2 17-0.8 13.5-1.4 5.5-1.1 17-4.8 11.5-3.8 8-3.1 5-2.5 20.5-12.8 7.5-4.1 13-4.8 4.5-1 5.5-0.6 3 0.5 10.5 2.9 5 1.8 12 5.8 26.5 14.3 11.5 4.7 7.5 2.7 5.5 1.4 13 1.5 13 0.7 10 0 4-0.8 9.5-3.2 4.5-1.1 14.5-1.7 12.5-0.1 20 1.3 24 3.5 6.5 1.3 20 5.4 9.5 1.6 8 0.7 15.5-0.1 41.5-1.5 39.5-0.6 27.5 1.8 26 2.2 62.5 2 52 3.3 79.5 1 54 2.5 49 1.8"/><path stroke="#0000A0" d="M252.5 859.6l19.5-0.1 6.5-1.7 6.5-2.7 8.5-5.1 8.5-6.6 7.5-7.3 6.5-7.8 6-8.8 5.5-9.6 5.5-11.2 5-11.8 5-13.4 5-15.1 5-16.8 6.5-23.5 13.5-51.6 9.5-40.2 9-44.1 8.5-48.1 4-26.1 4.5-32.3 8-65.1 6-58.3 11.5-124.1 4-37.5 3.5-28.2 2.5-16.9 4-23.7 2.5-13.3 2.5-11.2 2-6.8 2.5-6 4-8.1 1-1.4 1.5-1.2 2 2.1 1.5 3.9 2 7.1 2 9.5 5 31.5 4 35.1 5.5 66 14 203.1 9 115.2 5.5 60 7 68.5 5 45.4 4.5 34.4 5 30.1 5.5 26.7 6 23.4 7.5 23.8 9 24.4 3.5 8.2 4 8.3 4 6.9 3.5 5.1 4 4.7 4.5 4.2 11 7.9 10 5.5 4.5 1.8 5 1.6 5 1.2 5.5 0.9 23 0.2 64.5-0.3 18.5-0.8 13-1.3 6-1.1 17.5-4.6 12.5-4 7-2.7 4.5-2.2 20.5-12.6 7.5-4 8-3.3 5.5-1.9 4.5-1 5.5-0.6 12 2.3 5.5 1.8 10.5 4.9 12 6 17.5 9.6 14.5 5.9 5.5 1.8 4.5 1 14 1.5 12 0.7 9-0.1 4.5-1 9.5-3.5 5.5-1.1 13.5-1.6 14-0.1 18 1.1 23.5 3.2 7 1.6 19.5 5.6 10.5 1.9 8.5 0.8 19 0.1 68.5-1.7 9.5 0 26 1.4 26 1.9 64 2 51 3.4 78.5 1 54 2.8 49 1.8"/><path stroke="#FF8000" d="M252.5 859.4l22-0.1 6-1.5 6-2.4 4-2.1 4.5-2.8 8.5-6.7 7.5-7.3 7-8.5 6.5-9.6 5.5-9.7 5.5-11.3 5.5-13.1 5.5-15 5-15.4 5.5-18.7 6.5-23.8 13-49.8 9.5-40.4 8.5-42 8-46 4-26.9 4-29.9 8.5-72 5.5-55.2 12-134.2 4-38.5 3.5-28.4 6.5-40.6 2.5-13.3 2.5-10.9 2.5-7.7 4.5-9.7 2-3.6 1.5-1.2 0.5-0.1 1.5 1.4 2 5 2 7.4 2 9.7 5 31.6 4 34.6 3 32.9 3 37.9 14 199.7 9.5 121 5.5 60.3 7.5 74.3 5 45.6 4 30.5 5 30.2 6 29 6 23 7.5 23.8 9 24.8 4 9.5 3.5 7.2 4 7 4 5.8 4 4.6 4 3.6 11 7.9 9.5 5.3 9 3.3 10 1.9 21 0.3 65-0.4 19.5-0.8 11.5-1.1 7-1.3 18-4.5 12.5-3.8 5.5-2.1 5-2.4 20.5-12.6 7.5-3.8 8-3.4 5-1.8 7.5-1.6 3-0.1 11 1.3 6 1.9 10.5 4.7 11.5 5.6 18.5 10.2 16 6.4 4.5 1.4 4.5 1 15 1.6 10.5 0.5 8 0 4.5-1.1 10-3.9 7.5-1.4 13-1.3 16 0 15.5 0.9 22 2.9 7 1.7 19.5 5.9 11.5 2.3 8.5 0.9 25.5 0.2 41-0.7 22-0.7 9 0 50.5 2.7 62 1.7 54 3.8 77 1.1 54.5 2.9 49 2"/><path stroke="#8000FF" d="M252.5 859.4l24.5-0.1 6.5-1.7 6-2.5 8-4.8 8.5-6.7 8-8.1 7.5-9.5 7-11 6-11.1 6-13.1 5.5-13.9 5.5-15.8 5-16 14-50.7 12-46.7 8.5-37.3 8-40.8 7-42 3.5-24.6 4-31.6 8-71.4 5.5-57.8 11.5-134.8 3.5-35.5 3.5-29.9 2.5-17.4 4-24.3 2.5-13.6 2.5-11.2 2-6.6 2-4.7 4.5-9.1 1-1.4 1.5-1.2 2 2 1.5 3.8 2.5 9.2 2 9.9 5.5 34.9 4 34.4 6 68.7 15 205.9 10 124.2 5.5 59.4 8 79.1 4 36.4 4 30.7 5 30.2 6 28.9 6 22.9 8 25.4 9 25.2 4 9.5 3.5 7.3 3.5 6.3 4 5.9 3.5 4.1 4.5 4.2 11 8.1 9 5.1 4.5 1.9 4.5 1.4 9.5 1.8 2.5 0.3 15.5-0.1 65.5-0.3 11.5-0.3 10-0.6 10.5-1 7.5-1.3 18-4.2 12.5-3.7 5-1.9 4.5-2.2 22-13.2 11-5.3 6-2.4 4.5-1.4 5.5-1.1 4.5-0.2 9 0.7 6.5 2 10.5 4.5 10.5 5 19 10.5 16.5 6.8 8.5 2.2 16.5 1.8 10 0.5 7-0.1 4-1.1 11-4.4 14-2.1 11.5-0.6 15.5 0.2 12.5 0.8 20 2.6 7 1.8 19 6.1 12 2.6 8.5 1.1 14 0.4 19 0 32-0.3 25-0.9 10 0.1 47 2 60.5 1.4 44.5 3.5 14 0.7 77.5 1.2 51.5 3.1 49 2"/><path stroke="#FF0080" d="M252.5 859.3l27-0.1 6-1.5 6-2.4 4.5-2.4 4-2.6 8.5-6.9 8-8.3 7.5-9.7 7-11.1 6.5-12.2 6-13.2 6-15.2 5.5-16 5.5-17.8 15.5-56.3 10.5-41 8.5-37.6 7.5-38.8 6.5-39.8 3.5-25.6 3.5-29 8-74.8 5.5-60.6 11-135.1 3.5-37.1 3-26.4 2.5-18 3.5-21.8 2.5-14.1 2.5-11.9 2-7.2 2-5.2 5-10.1 1-1.5 1.5-1.2 2 1.6 1.5 3.7 2.5 9 2 9.6 6 36.9 4.5 38 6.5 72.6 15 198.3 10.5 127.7 5.5 58.9 8.5 84.2 4 36 3.5 26.4 5 30.1 6 28.8 6 22.8 8 25.6 9 25.5 4 9.9 3.5 7.4 3.5 6.4 3.5 5.4 4 4.8 4 3.8 11 8.3 9 5.3 4 1.7 4.5 1.5 9.5 1.8 2.5 0.3 13-0.1 65.5-0.3 12.5-0.3 11-0.7 9-0.8 8.5-1.4 17.5-3.8 12-3.3 4.5-1.6 4.5-2.1 23-13.7 14.5-6.8 5-1.8 6.5-1.6 4.5-0.5 6.5-0.1 3 0.2 3.5 0.9 14 5.6 11 5.2 17.5 9.8 16.5 7 4.5 1.5 4 0.9 18 2 9 0.5 6.5-0.1 4-1.2 7.5-3.4 3.5-1.2 13.5-2.2 12.5-0.7 18 0.2 12 0.8 18 2.3 6.5 1.7 19.5 6.6 13.5 3.2 9.5 1 21 0.6 36.5 0.1 36.5-1.2 49.5 1.4 56.5 1.2 15 0.8 31.5 2.8 14 0.9 77 1.3 54.5 3.3 49 2.2"/><path stroke="#FFFFFF" d="M252.5 859.3l29-0.1 6-1.4 6-2.3 8-4.5 8.5-6.8 8-8.3 8-10.3 7-10.9 7-13.1 6.5-14.3 6.5-16.6 5.5-16 5.5-17.9 17-61.5 10-39.2 7.5-33.4 7.5-39.1 6-37.7 3-22.7 3.5-30.3 8-79.3 5.5-64.7 10.5-137.7 3-33.3 2.5-23.1 2.5-18.5 3.5-22.5 2.5-14.3 2.5-11.9 2-6.9 2.5-5.9 4.5-9 2-2 0.5 0 2 2.1 2 5.4 2 7.4 2.5 12.2 4 23 2.5 16.6 5 41.9 7 75.7 15 187.5 11.5 134.7 5.5 57.5 8.5 83.5 4 35.4 3.5 25.6 5 29.1 6 28 6.5 24.1 9.5 29.7 8 22.3 3.5 8.4 3.5 7.4 3.5 6.2 3.5 5.1 3.5 4.1 4 3.7 10.5 7.9 8.5 5.1 4 1.7 4.5 1.5 9.5 1.7 22.5 0.2 59-0.4 12-0.3 14-0.9 9-1.2 16-2.9 10-2.3 8.5-2.4 8-3.5 21.5-12.8 15.5-7.5 5-1.8 7-1.8 5.5-0.9 5.5-0.3 3 0.4 3 0.8 16 6.4 9 4.2 16.5 9.4 17.5 7.7 8 2.1 18.5 2.2 10 0.5 5-0.3 3.5-1.1 7.5-3.5 3.5-1.3 13.5-2.3 14-0.7 18.5 0 12.5 0.8 15.5 2 7 1.9 16.5 6.1 11 3 9 1.9 9.5 0.7 20 0.8 33.5 0.3 37.5-1.4 104.5 1.8 15.5 0.9 31.5 2.9 14 0.9 77 1.4 54.5 3.6 49 2.3"/><path stroke="#808080" d="M252.5 859.3l31.5-0.1 6-1.4 5.5-2.1 4.5-2.3 4-2.5 8-6.4 8-8.3 8.5-11.1 7.5-11.9 7-13.2 6.5-14.3 6.5-16.6 5.5-16 6-19.5 18.5-66.6 9-35.4 7.5-33.8 7-37.3 5.5-35.6 3-23.9 3-27.6 8-84.4 5-63.1 9.5-134.8 2.5-30.5 2.5-25.1 2.5-19.7 3-20.1 2.5-15.2 2.5-12.6 2-7.4 2-5.1 5-10.1 1-1.4 1.5-1.3 2 1.6 2 4.8 2.5 9 2.5 11.8 4 21.9 3 18.8 5.5 43.6 4 38.7 4.5 48.7 15 177 12.5 140.6 14 138.5 3.5 30.3 3.5 25.2 5.5 31.1 6 27.1 6 21.8 10 31.2 8 22.3 6.5 14.6 3 5.5 3.5 5.2 3.5 4.2 4 3.8 10.5 8.1 8.5 5.1 4 1.7 4 1.3 9.5 1.8 2.5 0.2 23-0.1 58.5-0.4 22-1.1 9.5-1.2 16.5-2.8 9.5-2 8-2.3 8-3.5 20-11.9 16.5-8.2 5-1.9 9.5-2.7 5-0.9 4-0.2 3 0.4 3 0.9 17.5 6.8 7 3.4 16.5 9.4 11.5 5.4 6 2.4 7.5 2.1 19.5 2.4 9.5 0.5 4.5-0.3 3.5-1.1 7.5-3.7 3.5-1.4 13.5-2.3 16-0.9 18.5-0.1 13 0.9 13 1.7 7.5 2.2 16 6.1 13.5 3.9 8 1.6 12 1 17.5 0.7 28.5 0.5 10.5-0.1 30-1.4 63.5 0.4 41.5 0.7 15.5 0.9 32 3.1 13.5 0.9 77 1.6 54.5 3.7 49 2.4"/><path stroke="#FFFF80" d="M252.5 859.3l31.5-0.1 6-1.4 5.5-2.1 4.5-2.3 4-2.5 8-6.4 8-8.3 8.5-11.1 7.5-11.9 7-13.2 6.5-14.3 6.5-16.6 5.5-16 6-19.5 18.5-66.6 9-35.4 7.5-33.8 7-37.3 5.5-35.6 3-23.9 3-27.6 8-84.4 5-63.1 9.5-134.8 2.5-30.5 2.5-25.1 2.5-19.7 3-20.1 2.5-15.2 2.5-12.6 2-7.4 2-5.1 5-10.1 1-1.4 1.5-1.3 2 1.6 2 4.8 2.5 9 2.5 11.8 4 21.9 3 18.8 5.5 43.6 4 38.7 4.5 48.7 15 177 12.5 140.6 14 138.5 3.5 30.3 3.5 25.2 5.5 31.1 6 27.1 6 21.8 10 31.2 8 22.3 6.5 14.6 3 5.5 3.5 5.2 3.5 4.2 4 3.8 10.5 8.1 8.5 5.1 4 1.7 4 1.3 9.5 1.8 2.5 0.2 23-0.1 58.5-0.4 22-1.1 9.5-1.2 16.5-2.8 9.5-2 8-2.3 8-3.5 20-11.9 16.5-8.2 5-1.9 9.5-2.7 5-0.9 4-0.2 3 0.4 3 0.9 17.5 6.8 7 3.4 16.5 9.4 11.5 5.4 6 2.4 7.5 2.1 19.5 2.4 9.5 0.5 4.5-0.3 3.5-1.1 7.5-3.7 3.5-1.4 13.5-2.3 16-0.9 18.5-0.1 13 0.9 13 1.7 7.5 2.2 16 6.1 13.5 3.9 8 1.6 12 1 17.5 0.7 28.5 0.5 10.5-0.1 30-1.4 63.5 0.4 41.5 0.7 15.5 0.9 32 3.1 13.5 0.9 77 1.6 54.5 3.7 49 2.4"/><path stroke="#80FFFF" d="M252.5 859.3l31.5-0.1 6-1.4 5.5-2.1 4.5-2.3 4-2.5 8-6.4 8-8.3 8.5-11.1 7.5-11.9 7-13.2 6.5-14.3 6.5-16.6 5.5-16 6-19.5 18.5-66.6 9-35.4 7.5-33.8 7-37.3 5.5-35.6 3-23.9 3-27.6 8-84.4 5-63.1 9.5-134.8 2.5-30.5 2.5-25.1 2.5-19.7 3-20.1 2.5-15.2 2.5-12.6 2-7.4 2-5.1 5-10.1 1-1.4 1.5-1.3 2 1.6 2 4.8 2.5 9 2.5 11.8 4 21.9 3 18.8 5.5 43.6 4 38.7 4.5 48.7 15 177 12.5 140.6 14 138.5 3.5 30.3 3.5 25.2 5.5 31.1 6 27.1 6 21.8 10 31.2 8 22.3 6.5 14.6 3 5.5 3.5 5.2 3.5 4.2 4 3.8 10.5 8.1 8.5 5.1 4 1.7 4 1.3 9.5 1.8 2.5 0.2 23-0.1 58.5-0.4 22-1.1 9.5-1.2 16.5-2.8 9.5-2 8-2.3 8-3.5 20-11.9 16.5-8.2 5-1.9 9.5-2.7 5-0.9 4-0.2 3 0.4 3 0.9 17.5 6.8 7 3.4 16.5 9.4 11.5 5.4 6 2.4 7.5 2.1 19.5 2.4 9.5 0.5 4.5-0.3 3.5-1.1 7.5-3.7 3.5-1.4 13.5-2.3 16-0.9 18.5-0.1 13 0.9 13 1.7 7.5 2.2 16 6.1 13.5 3.9 8 1.6 12 1 17.5 0.7 28.5 0.5 10.5-0.1 30-1.4 63.5 0.4 41.5 0.7 15.5 0.9 32 3.1 13.5 0.9 77 1.6 54.5 3.7 49 2.4"/><path stroke="#C0C0C0" d="M252.5 859.3l31.5-0.1 6-1.4 6-2.3 8-4.5 4-3 4.5-3.9 8.5-9 7.5-9.9 7-11 7.5-14.1 7-15.5 6.5-16.7 5.5-16.1 5.5-18 18.5-66.5 9.5-37.5 7.5-34.1 7-37.7 5.5-36.2 3-24.4 3-28.1 8-85.5 4.5-57.2 9.5-135.4 2.5-30.8 2.5-25.5 2.5-19.9 3.5-23.3 2.5-14.9 2.5-12.1 2-6.9 2-4.8 4.5-9.1 1-1.5 1.5-1.3 0.5 0.1 1.5 1.3 2 4.7 2.5 8.8 2.5 11.7 4 21.8 3 18.7 5.5 43.4 4 38.5 4.5 48.6 15.5 182.6 12.5 140.4 13.5 133.7 3.5 30.6 3.5 25.5 5.5 31.5 6 27.3 6.5 23.6 10 31.1 8 22.3 6.5 14.5 3.5 6.1 3.5 5 3 3.5 4 3.7 10.5 8.1 8 4.8 4 1.8 4 1.2 9.5 1.8 2.5 0.3 21.5-0.1 60-0.5 22.5-1.1 9.5-1.2 16.5-2.8 9-1.9 8-2.3 8-3.5 20-11.9 16.5-8.2 5-1.9 9.5-2.7 5-0.9 4-0.2 3 0.4 3 0.9 17.5 6.7 7 3.4 16.5 9.5 11.5 5.3 6 2.5 7.5 2 19.5 2.5 9.5 0.4 4.5-0.2 3.5-1.1 10.5-5 13.5-2.4 6-0.6 10-0.4 19-0.1 13 0.9 13 1.7 7.5 2.2 16 6.2 14 4 7.5 1.5 12.5 1 17 0.7 28.5 0.5 10-0.1 31-1.4 62.5 0.3 42 0.8 15.5 0.9 32 3 13.5 1 77 1.5 54.5 3.8 49 2.3"/></g><rect x="762.6" y="24.0" width="2.5" height="2.5" fill="#6e5a62"/><rect x="765.1" y="24.0" width="2.9" height="2.5" fill="#000"/><rect x="768" y="24.0" width="2.8" height="2.5" fill="#8e968e"/><rect x="762.6" y="47.0" width="2.5" height="26.5" fill="#6e5a62"/><rect x="765.1" y="47.0" width="2.9" height="26.5" fill="#000"/><rect x="768" y="47.0" width="2.8" height="26.5" fill="#8e968e"/><rect x="762.6" y="94.0" width="2.5" height="26.5" fill="#6e5a62"/><rect x="765.1" y="94.0" width="2.9" height="26.5" fill="#000"/><rect x="768" y="94.0" width="2.8" height="26.5" fill="#8e968e"/><rect x="762.6" y="141.0" width="2.5" height="26.5" fill="#6e5a62"/><rect x="765.1" y="141.0" width="2.9" height="26.5" fill="#000"/><rect x="768" y="141.0" width="2.8" height="26.5" fill="#8e968e"/><rect x="762.6" y="188.0" width="2.5" height="26.5" fill="#6e5a62"/><rect x="765.1" y="188.0" width="2.9" height="26.5" fill="#000"/><rect x="768" y="188.0" width="2.8" height="26.5" fill="#8e968e"/><rect x="762.6" y="235.0" width="2.5" height="26.5" fill="#6e5a62"/><rect x="765.1" y="235.0" width="2.9" height="26.5" fill="#000"/><rect x="768" y="235.0" width="2.8" height="26.5" fill="#8e968e"/><rect x="762.6" y="282.0" width="2.5" height="26.5" fill="#6e5a62"/><rect x="765.1" y="282.0" width="2.9" height="26.5" fill="#000"/><rect x="768" y="282.0" width="2.8" height="26.5" fill="#8e968e"/><rect x="762.6" y="329.0" width="2.5" height="26.5" fill="#6e5a62"/><rect x="765.1" y="329.0" width="2.9" height="26.5" fill="#000"/><rect x="768" y="329.0" width="2.8" height="26.5" fill="#8e968e"/><rect x="762.6" y="376.0" width="2.5" height="26.5" fill="#6e5a62"/><rect x="765.1" y="376.0" width="2.9" height="26.5" fill="#000"/><rect x="768" y="376.0" width="2.8" height="26.5" fill="#8e968e"/><rect x="762.6" y="423.0" width="2.5" height="26.5" fill="#6e5a62"/><rect x="765.1" y="423.0" width="2.9" height="26.5" fill="#000"/><rect x="768" y="423.0" width="2.8" height="26.5" fill="#8e968e"/><rect x="762.6" y="470.0" width="2.5" height="26.5" fill="#6e5a62"/><rect x="765.1" y="470.0" width="2.9" height="26.5" fill="#000"/><rect x="768" y="470.0" width="2.8" height="26.5" fill="#8e968e"/><rect x="762.6" y="517.0" width="2.5" height="26.5" fill="#6e5a62"/><rect x="765.1" y="517.0" width="2.9" height="26.5" fill="#000"/><rect x="768" y="517.0" width="2.8" height="26.5" fill="#8e968e"/><rect x="762.6" y="564.0" width="2.5" height="26.5" fill="#6e5a62"/><rect x="765.1" y="564.0" width="2.9" height="26.5" fill="#000"/><rect x="768" y="564.0" width="2.8" height="26.5" fill="#8e968e"/><rect x="762.6" y="611.0" width="2.5" height="26.5" fill="#6e5a62"/><rect x="765.1" y="611.0" width="2.9" height="26.5" fill="#000"/><rect x="768" y="611.0" width="2.8" height="26.5" fill="#8e968e"/><rect x="762.6" y="658.0" width="2.5" height="26.5" fill="#6e5a62"/><rect x="765.1" y="658.0" width="2.9" height="26.5" fill="#000"/><rect x="768" y="658.0" width="2.8" height="26.5" fill="#8e968e"/><rect x="762.6" y="705.0" width="2.5" height="26.5" fill="#6e5a62"/><rect x="765.1" y="705.0" width="2.9" height="26.5" fill="#000"/><rect x="768" y="705.0" width="2.8" height="26.5" fill="#8e968e"/><rect x="762.6" y="752.0" width="2.5" height="26.5" fill="#6e5a62"/><rect x="765.1" y="752.0" width="2.9" height="26.5" fill="#000"/><rect x="768" y="752.0" width="2.8" height="26.5" fill="#8e968e"/><rect x="762.6" y="799.0" width="2.5" height="26.5" fill="#6e5a62"/><rect x="765.1" y="799.0" width="2.9" height="26.5" fill="#000"/><rect x="768" y="799.0" width="2.8" height="26.5" fill="#8e968e"/><rect x="762.6" y="846.0" width="2.5" height="26.5" fill="#6e5a62"/><rect x="765.1" y="846.0" width="2.9" height="26.5" fill="#000"/><rect x="768" y="846.0" width="2.8" height="26.5" fill="#8e968e"/><rect x="762.6" y="893.0" width="2.5" height="26.5" fill="#6e5a62"/><rect x="765.1" y="893.0" width="2.9" height="26.5" fill="#000"/><rect x="768" y="893.0" width="2.8" height="26.5" fill="#8e968e"/><rect x="762.6" y="940.0" width="2.5" height="21.0" fill="#6e5a62"/><rect x="765.1" y="940.0" width="2.9" height="21.0" fill="#000"/><rect x="768" y="940.0" width="2.8" height="21.0" fill="#8e968e"/><rect x="250.0" y="16.0" width="1296.0" height="3.0" fill="#d0c8d0"/><rect x="1537.0" y="22.0" width="3.0" height="941.0" fill="#b6b4ba"/><rect x="250.0" y="966.0" width="1296.0" height="3.0" fill="#c8d0d8"/><rect x="250.0" y="22.0" width="1296.0" height="2.0" fill="#4f454a"/><rect x="250.0" y="961.0" width="1296.0" height="2.0" fill="#45454f"/><rect x="250.0" y="19.0" width="2.0" height="947.0" fill="#4b504b"/><rect x="1543.0" y="19.0" width="3.0" height="947.0" fill="#45454f"/><rect x="250.0" y="19.0" width="1296.0" height="3.0" fill="#000"/><rect x="250.0" y="963.0" width="1296.0" height="3.0" fill="#000"/><rect x="252.0" y="19.0" width="3.0" height="947.0" fill="#000"/><rect x="1540.0" y="19.0" width="3.0" height="947.0" fill="#000"/><rect x="337.0" y="944.0" width="5.0" height="17.0" fill="#000"/><rect x="764.5" y="944.0" width="5.0" height="17.0" fill="#000"/><rect x="1195.8" y="944.0" width="5.0" height="17.0" fill="#000"/><rect x="255.0" y="175.2" width="16.6" height="8.4" fill="#7c7a80"/><rect x="255.0" y="177.7" width="16.6" height="3.0" fill="#000"/><rect x="255.0" y="436.5" width="16.6" height="8.4" fill="#7c7a80"/><rect x="255.0" y="439.0" width="16.6" height="3.0" fill="#000"/><rect x="255.0" y="697.8" width="16.6" height="8.4" fill="#7c7a80"/><rect x="255.0" y="700.3" width="16.6" height="3.0" fill="#000"/><text x="339.3" y="1036" font-size="67" text-anchor="middle">400</text><text x="768.3" y="1036" font-size="67" text-anchor="middle">500</text><text x="1197.3" y="1036" font-size="67" text-anchor="middle">600</text><text transform="translate(230.2,721.1) scale(1,1.05)" font-size="67" text-anchor="end">0.5</text><text transform="translate(230.2,459.7) scale(1,1.05)" font-size="67" text-anchor="end">1.0</text><text transform="translate(230.2,198.3) scale(1,1.05)" font-size="67" text-anchor="end">1.5</text><text x="576.3" y="1126.5" font-size="77.3">Wavelength (nm)</text><text transform="translate(79.3,677.3) rotate(-90)" font-size="77">Absorbance</text><text x="778" y="650" font-size="61">x 5</text><path d="M339.9 174.7V301" stroke="#000" stroke-width="5.2"/><path d="M331 300H348.6L341.5 329.5H338.3Z" fill="#000"/><path d="M547.3 247.4V129" stroke="#000" stroke-width="5.6"/><path d="M539 130.4H555.6L549 100.9H545.6Z" fill="#000"/><rect x="894.0" y="46.0" width="2.0" height="461.0" fill="#6e6e6a"/><rect x="896.0" y="49.0" width="625.0" height="3.0" fill="#4a5450"/><rect x="896.0" y="502.0" width="625.0" height="3.0" fill="#6e6068"/><rect x="1521.0" y="46.0" width="3.0" height="461.0" fill="#505058"/><rect x="894.0" y="46.0" width="630.0" height="3.0" fill="#1c1c28"/><rect x="894.0" y="505.0" width="630.0" height="2.0" fill="#000"/><rect x="896.0" y="46.0" width="3.0" height="461.0" fill="#1e1c24"/><rect x="1518.0" y="46.0" width="3.0" height="461.0" fill="#1e1c24"/><rect x="911.7" y="496.3" width="3.0" height="5.7" fill="#7a8e72"/><rect x="914.7" y="496.3" width="2.7" height="5.7" fill="#000"/><rect x="989.9" y="496.3" width="3.0" height="5.7" fill="#7a8e72"/><rect x="992.9" y="496.3" width="2.7" height="5.7" fill="#000"/><rect x="1068.1" y="496.3" width="3.0" height="5.7" fill="#7a8e72"/><rect x="1071.1" y="496.3" width="2.7" height="5.7" fill="#000"/><rect x="1146.3" y="496.3" width="3.0" height="5.7" fill="#7a8e72"/><rect x="1149.3" y="496.3" width="2.7" height="5.7" fill="#000"/><rect x="1224.5" y="496.3" width="3.0" height="5.7" fill="#7a8e72"/><rect x="1227.5" y="496.3" width="2.7" height="5.7" fill="#000"/><rect x="1302.7" y="496.3" width="3.0" height="5.7" fill="#7a8e72"/><rect x="1305.7" y="496.3" width="2.7" height="5.7" fill="#000"/><rect x="1380.9" y="496.3" width="3.0" height="5.7" fill="#7a8e72"/><rect x="1383.9" y="496.3" width="2.7" height="5.7" fill="#000"/><rect x="1459.1" y="496.3" width="3.0" height="5.7" fill="#7a8e72"/><rect x="1462.1" y="496.3" width="2.7" height="5.7" fill="#000"/><rect x="899.0" y="460.4" width="8.0" height="2.1" fill="#8a8088"/><rect x="899.0" y="462.5" width="6.0" height="2.9" fill="#000"/><rect x="899.0" y="377.6" width="8.0" height="2.1" fill="#8a8088"/><rect x="899.0" y="379.7" width="6.0" height="2.9" fill="#000"/><rect x="899.0" y="294.7" width="8.0" height="2.1" fill="#8a8088"/><rect x="899.0" y="296.8" width="6.0" height="2.9" fill="#000"/><rect x="899.0" y="211.9" width="8.0" height="2.1" fill="#8a8088"/><rect x="899.0" y="214.0" width="6.0" height="2.9" fill="#000"/><rect x="899.0" y="129.0" width="8.0" height="2.1" fill="#8a8088"/><rect x="899.0" y="131.1" width="6.0" height="2.9" fill="#000"/><text x="915.5" y="542" font-size="33" text-anchor="middle">0</text><text x="993.7" y="542" font-size="33" text-anchor="middle">4</text><text x="1071.9" y="542" font-size="33" text-anchor="middle">8</text><text x="1150.1" y="542" font-size="33" text-anchor="middle">12</text><text x="1228.3" y="542" font-size="33" text-anchor="middle">16</text><text x="1306.5" y="542" font-size="33" text-anchor="middle">20</text><text x="1384.7" y="542" font-size="33" text-anchor="middle">24</text><text x="1462.9" y="542" font-size="33" text-anchor="middle">28</text><text x="886.3" y="473.2" font-size="33" text-anchor="end">0.8</text><text x="886.3" y="390.4" font-size="33" text-anchor="end">1.0</text><text x="886.3" y="307.5" font-size="33" text-anchor="end">1.2</text><text x="886.3" y="224.7" font-size="33" text-anchor="end">1.4</text><text x="886.3" y="141.8" font-size="33" text-anchor="end">1.6</text><text x="886.3" y="59.0" font-size="33" text-anchor="end">1.8</text><text x="1059.2" y="597.2" font-size="37.6">Pt complexes, eq.</text><text transform="translate(818.6,398) rotate(-90)" font-size="37.5">Absorbance <tspan font-size="26" dx="-3.8" dy="12.2">418nm</tspan></text><line x1="907.6" y1="68.6" x2="1279.7" y2="481.4" stroke="#000" stroke-width="2.0" stroke-dasharray="11 9"/><line x1="1240.5" y1="457.7" x2="1519" y2="457.7" stroke="#000" stroke-width="3.6" stroke-dasharray="12.4 11.4"/><circle cx="915.0" cy="80.0" r="7.2"/><circle cx="934.5" cy="96.6" r="7.2"/><circle cx="954.1" cy="118.3" r="7.2"/><circle cx="973.6" cy="141.7" r="7.2"/><circle cx="993.2" cy="166.3" r="7.2"/><circle cx="1012.8" cy="189.0" r="7.2"/><circle cx="1032.3" cy="211.0" r="7.2"/><circle cx="1051.8" cy="234.1" r="7.2"/><circle cx="1071.4" cy="257.5" r="7.2"/><circle cx="1091.0" cy="279.2" r="7.2"/><circle cx="1110.5" cy="303.5" r="7.2"/><circle cx="1130.0" cy="325.2" r="7.2"/><circle cx="1149.6" cy="344.4" r="7.2"/><circle cx="1169.2" cy="363.0" r="7.2"/><circle cx="1188.7" cy="379.4" r="7.2"/><circle cx="1208.2" cy="401.7" r="7.2"/><circle cx="1227.8" cy="421.0" r="7.2"/><circle cx="1247.3" cy="439.6" r="7.2"/><circle cx="1266.9" cy="457.0" r="7.2"/><circle cx="1345.1" cy="457.3" r="7.2"/><circle cx="1423.3" cy="457.3" r="7.2"/><circle cx="1501.5" cy="457.2" r="7.2"/></svg></body></html>
